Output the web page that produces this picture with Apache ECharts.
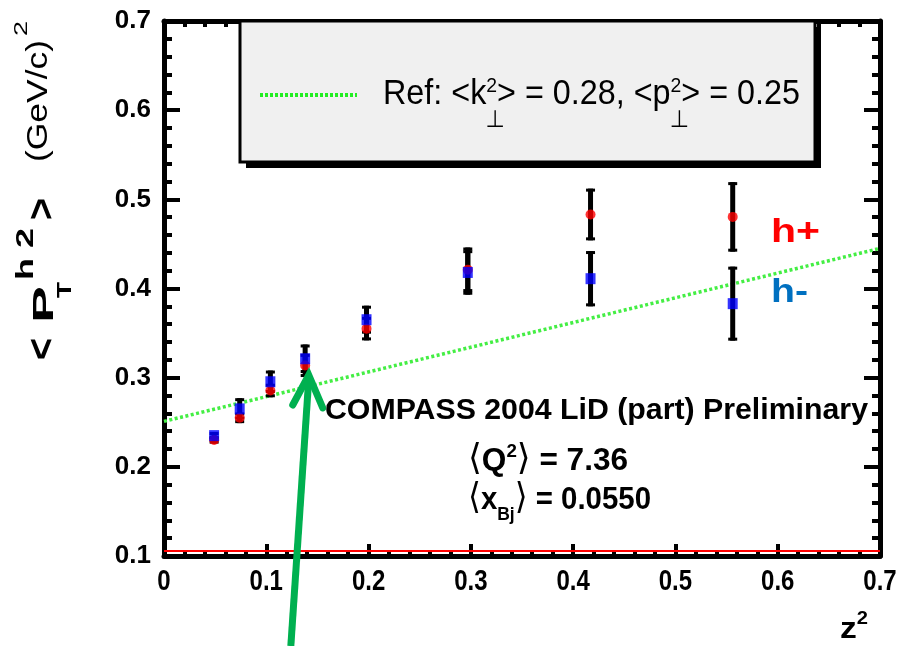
<!DOCTYPE html>
<html><head><meta charset="utf-8">
<script src="https://cdn.jsdelivr.net/npm/echarts@6/dist/echarts.min.js"></script>
<style>html,body{margin:0;padding:0;background:#fff}#c{width:904px;height:646px}</style>
</head><body><div id="c"></div>
<script>
// ---------------- data ----------------
const z2 = [0.049, 0.074, 0.104, 0.138, 0.198, 0.297, 0.417, 0.556];
const hPlus = [0.230, 0.255, 0.2856, 0.3137, 0.355, 0.421, 0.483, 0.4803];
const hPlusErr = [0.004, 0.006, 0.0076, 0.013, 0.0132, 0.025, 0.029, 0.039];
const hMinus = [0.235, 0.265, 0.2954, 0.3212, 0.365, 0.418, 0.411, 0.383];
const hMinusErr = [0.004, 0.012, 0.0126, 0.016, 0.0157, 0.025, 0.031, 0.0415];
const refLineX = [0, 0.7];
const refLineY = [0.251, 0.445];
const baseLineY = 0.1055;
const xTickValues = [0, 0.1, 0.2, 0.3, 0.4, 0.5, 0.6, 0.7];
const xLabels = ['0', '0.1', '0.2', '0.3', '0.4', '0.5', '0.6', '0.7'];
const yLabels = ['0.1', '0.2', '0.3', '0.4', '0.5', '0.6', '0.7'];
const arrowTip = [0.1415, 0.303];
const arrowTail = [0.124, -0.001];

// ---------------- helpers ----------------
const FAM = "'Liberation Sans', Arial, 'DejaVu Sans', sans-serif";
const mctx = document.createElement('canvas').getContext('2d');
function fnt(size, weight) { return (weight || 'normal') + ' ' + size + 'px ' + FAM; }
function measure(t, size, weight) { mctx.font = fnt(size, weight); return mctx.measureText(t).width; }
function textEl(t, x, baseY, size, weight, fill, extra) {
  return Object.assign({
    type: 'text', x: x, y: baseY - 0.35 * size, z: 120,
    style: { text: t, font: fnt(size, weight), fill: fill || '#000', align: 'left', verticalAlign: 'middle' }
  }, extra || {});
}
function block(parts, opt) {
  let x = 0; const kids = [];
  parts.forEach(p => {
    const items = p.stack || [p];
    let adv = 0;
    items.forEach(q => {
      const s = q.s || opt.s, w = q.w || opt.w;
      kids.push(textEl(q.t, x + (q.dx || 0), q.dy || 0, s, w, q.c || opt.c));
      if (!q.noAdv) adv = Math.max(adv, measure(q.t, s, w) + (q.dx || 0));
    });
    x += adv;
  });
  const sc = opt.width ? opt.width / x : 1;
  return { type: 'group', x: opt.x, y: opt.y, rotation: opt.rotation || 0, scaleX: sc, z: 120, children: kids };
}
function frag(t, u, v, size, weight, len) {
  const sc = len / measure(t, size, weight);
  return textEl(t, u, v, size, weight, '#000', { scaleX: sc });
}

// ---------------- axes ----------------
function axisBase(extra) {
  return Object.assign({
    type: 'value',
    axisLine: { show: true, onZero: false, lineStyle: { color: '#000', width: 5 } },
    splitLine: { show: false },
    minorSplitLine: { show: false }
  }, extra);
}
const xTickStyle = { inside: true, show: true, length: 12, lineStyle: { color: '#000', width: 4 } };
const xMinor = { show: true, splitNumber: 5, length: 6, lineStyle: { color: '#000', width: 4 } };
const yTickStyle = { inside: true, show: true, length: 16, lineStyle: { color: '#000', width: 4 } };
const yMinor = { show: true, splitNumber: 5, length: 8, lineStyle: { color: '#000', width: 4 } };

const option = {
  animation: false,
  backgroundColor: '#ffffff',
  grid: { left: 164, right: 24, top: 21, bottom: 90 },
  xAxis: [
    axisBase({
      min: 0, max: 0.7, interval: 0.1, position: 'bottom',
      axisTick: xTickStyle, minorTick: xMinor,
      axisLabel: { show: false }
    }),
    axisBase({
      min: 0, max: 0.7, interval: 0.1, position: 'top',
      axisTick: xTickStyle, minorTick: xMinor, axisLabel: { show: false }
    })
  ],
  yAxis: [
    axisBase({
      min: 0.1, max: 0.7, interval: 0.1, position: 'left',
      axisTick: yTickStyle, minorTick: yMinor,
      axisLabel: {
        margin: 13, color: '#000', fontFamily: FAM, fontWeight: 'bold', fontSize: 26,
        formatter: v => yLabels[Math.round(v * 10) - 1]
      }
    }),
    axisBase({
      min: 0.1, max: 0.7, interval: 0.1, position: 'right',
      axisTick: yTickStyle, minorTick: yMinor, axisLabel: { show: false }
    })
  ],
  series: [
    {
      type: 'line', name: 'Ref', z: 2, symbol: 'none', silent: true,
      data: refLineX.map((x, i) => [x, refLineY[i]]),
      lineStyle: { color: '#44ee44', width: 3.5, type: [3, 2.5] }
    },
    {
      type: 'line', name: 'base', z: 2, symbol: 'none', silent: true,
      data: refLineX.map(x => [x, baseLineY]),
      lineStyle: { color: '#ff0000', width: 2 }
    },
    {
      type: 'custom', name: 'err', z: 3,
      data: z2.map((x, i) => [x, hPlus[i], hPlusErr[i]]).concat(z2.map((x, i) => [x, hMinus[i], hMinusErr[i]])),
      encode: { x: 0, y: 1 },
      renderItem: function (params, api) {
        const x = api.value(0), y = api.value(1), e = api.value(2);
        const top = api.coord([x, y + e]), bot = api.coord([x, y - e]);
        const st = { stroke: '#000', lineWidth: 5 };
        const cs = { stroke: '#000', lineWidth: 3 };
        return {
          type: 'group', children: [
            { type: 'line', shape: { x1: top[0], y1: top[1], x2: bot[0], y2: bot[1] }, style: st },
            { type: 'line', shape: { x1: top[0] - 4.5, y1: top[1] + 1.5, x2: top[0] + 4.5, y2: top[1] + 1.5 }, style: cs },
            { type: 'line', shape: { x1: bot[0] - 4.5, y1: bot[1] - 1.5, x2: bot[0] + 4.5, y2: bot[1] - 1.5 }, style: cs }
          ]
        };
      }
    },
    {
      type: 'scatter', name: 'h+', z: 4, symbol: 'circle', symbolSize: 10,
      data: z2.map((x, i) => [x, hPlus[i]]),
      itemStyle: { color: '#ff0000' }
    },
    {
      type: 'scatter', name: 'h-', z: 5, symbol: 'rect', symbolSize: [10, 11],
      data: z2.map((x, i) => [x, hMinus[i]]),
      itemStyle: { color: '#0000ff' }
    }
  ]
};

const chart = echarts.init(document.getElementById('c'));
chart.setOption(option);

// ---------------- annotations ----------------
const tip = chart.convertToPixel({ gridIndex: 0 }, arrowTip);
const tail = chart.convertToPixel({ gridIndex: 0 }, arrowTail);
const green = '#00b050';

// x tick labels (condensed), placed from the axis scale
const xLabelEls = xTickValues.map((v, i) => {
  const px = chart.convertToPixel({ xAxisIndex: 0 }, v);
  return {
    type: 'text', x: px, y: 592 - 0.35 * 30, z: 120, scaleX: 0.8,
    style: { text: xLabels[i], font: fnt(30, 'bold'), fill: '#000', align: 'center', verticalAlign: 'middle' }
  };
});

const perp = [{ t: '2', s: 21, dy: -13 }, { t: '\u22A5', s: 24, dy: 22, dx: -1, noAdv: true }];
const graphics = [
  // legend box with shadow
  { type: 'rect', z: 100, shape: { x: 246, y: 27, width: 575, height: 141 }, style: { fill: '#000' } },
  { type: 'rect', z: 101, shape: { x: 240, y: 21, width: 575, height: 141 }, style: { fill: '#f0f0f0', stroke: '#000', lineWidth: 3 } },
  { type: 'line', z: 102, shape: { x1: 260, y1: 95, x2: 357, y2: 95 }, style: { stroke: '#22ee22', lineWidth: 4, lineDash: [3, 2] } },
  block([
    { t: 'Ref: <k' }, { stack: perp }, { t: '> = 0.28, <p' }, { stack: perp }, { t: '> = 0.25' }
  ], { x: 383, y: 107, s: 35, w: 'normal', width: 417 }),
  // annotations
  block([{ t: 'COMPASS 2004 LiD (part) Preliminary' }], { x: 325, y: 421, s: 30, w: 'bold', width: 543 }),
  block([{ t: '\u27E8', s: 36, w: 'normal' }, { t: 'Q' }, { t: '2', s: 19, dy: -14 }, { t: '\u27E9', s: 36, w: 'normal' }, { t: ' = 7.36' }],
    { x: 468, y: 472, s: 32, w: 'bold', width: 160 }),
  block([{ t: '\u27E8', s: 36, w: 'normal' }, { t: 'x' }, { t: 'Bj', s: 19, dy: 10 }, { t: '\u27E9', s: 36, w: 'normal' }, { t: ' = 0.0550' }],
    { x: 468, y: 511, s: 32, w: 'bold', width: 183 }),
  block([{ t: 'h+' }], { x: 771, y: 245, s: 34, w: 'bold', c: '#ff0000', width: 49 }),
  block([{ t: 'h-' }], { x: 771, y: 305, s: 34, w: 'bold', c: '#0070c0', width: 37 }),
  block([{ t: 'z' }, { t: '2', s: 18, dy: -15 }], { x: 840, y: 640, s: 30, w: 'bold', width: 28 }),
  // y axis title (rotated)
  {
    type: 'group', x: 55, y: 360, rotation: Math.PI / 2, z: 120, children: [
      frag('<', 0, 2, 38, 'bold', 22),
      frag('P', 37, 0, 30, 'bold', 37),
      frag('T', 62, 17, 20, 'bold', 16),
      frag('h 2', 80, -20, 24, 'bold', 52),
      frag('>', 140, 2, 38, 'bold', 22),
      frag('(GeV/c)', 198, -6, 29, 'normal', 122),
      frag('2', 324, -27, 18, 'normal', 15)
    ]
  },
  // green arrow
  { type: 'line', z: 130, shape: { x1: tail[0], y1: tail[1], x2: tip[0], y2: tip[1] + 4 }, style: { stroke: green, lineWidth: 7 } },
  {
    type: 'polyline', z: 130,
    shape: { points: [[tip[0] - 16, tip[1] + 30], [tip[0], tip[1]], [tip[0] + 14, tip[1] + 33]] },
    style: { stroke: green, lineWidth: 7, fill: null, lineJoin: 'miter', lineCap: 'round' }
  }
].concat(xLabelEls);
chart.setOption({ graphic: graphics });
</script>
</body></html>
